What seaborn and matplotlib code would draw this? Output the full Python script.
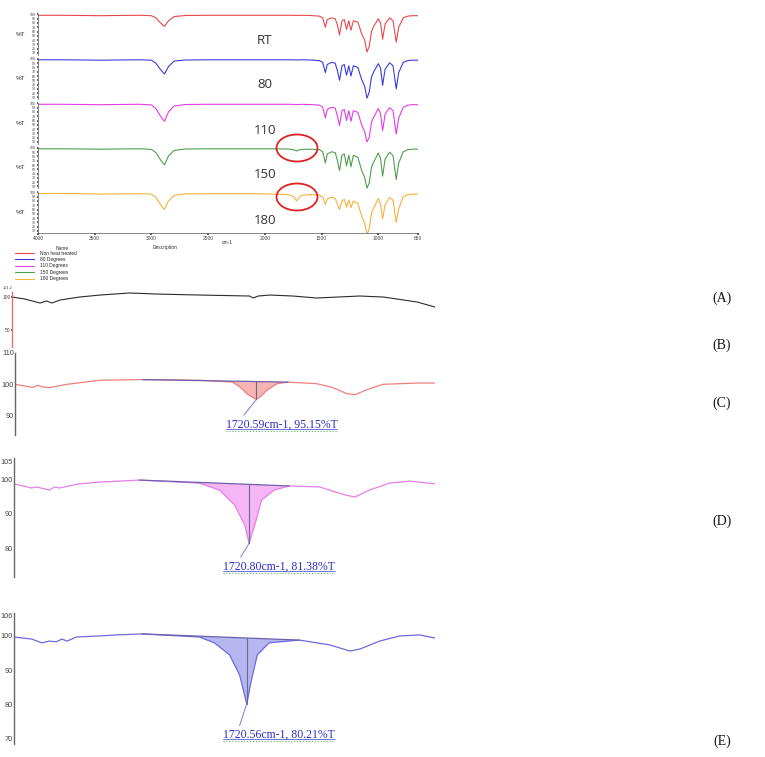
import matplotlib
matplotlib.use('Agg')
import matplotlib.pyplot as plt
import seaborn as sns
from matplotlib.patches import Ellipse
from matplotlib.lines import Line2D

# ---- panel A: full FTIR spectra (cm-1, %T) ----
wn_a = [4000, 3800, 3600, 3450, 3300, 3100, 3000, 2960, 2920, 2885,
        2850, 2800, 2700, 2500, 2300, 2100, 2000, 1900, 1800, 1760,
        1740, 1720, 1700, 1680, 1600, 1520, 1490, 1467, 1450, 1410,
        1380, 1360, 1342, 1320, 1300, 1280, 1260, 1241, 1220, 1180,
        1147, 1120, 1100, 1080, 1060, 1040, 1000, 980, 962, 940,
        900, 870, 842, 820, 780, 740, 700, 650]
t_rt = [98, 98, 97.5, 97, 97.5, 98, 97, 92, 80, 72,
        85, 95, 97.5, 98, 98, 98, 98, 98, 98, 98,
        97.8, 97.5, 97.8, 98, 97.5, 96, 92, 70, 88, 92,
        90, 75, 52, 85, 88, 65, 85, 63, 85, 82,
        55, 40, 12, 25, 60, 72, 90, 80, 42, 78,
        92, 85, 35, 70, 92, 96, 97, 97]
t_80 = [98, 98, 97.5, 97, 97.5, 98, 97, 90, 75, 65,
        82, 95, 97.5, 98, 98, 98, 98, 98, 98, 98,
        97.8, 97.5, 97.8, 98, 97.5, 96, 92, 68, 87, 92,
        90, 72, 50, 84, 87, 62, 84, 60, 84, 80,
        52, 36, 8, 22, 58, 70, 89, 78, 38, 76,
        91, 84, 30, 68, 92, 96, 97, 97]
t_110 = [98, 98, 97.5, 97, 97.5, 98, 96.5, 88, 70, 58,
         80, 94, 97.5, 98, 98, 98, 98, 98, 98, 97.8,
         97.6, 97.3, 97.6, 97.8, 97.5, 96, 91, 66, 86, 91,
         89, 70, 48, 83, 86, 60, 83, 58, 83, 79,
         50, 34, 10, 20, 56, 68, 88, 76, 36, 75,
         90, 83, 28, 66, 91, 96, 97, 97]
t_150 = [98, 98, 97.5, 97, 97.5, 98, 96.5, 89, 72, 60,
         81, 94, 97.5, 98, 98, 98, 98, 98, 97.5, 96.5,
         95, 93, 95, 96.5, 97, 96, 91, 65, 86, 91,
         89, 70, 47, 83, 86, 58, 83, 56, 83, 78,
         48, 30, 6, 18, 55, 67, 88, 75, 34, 74,
         90, 82, 26, 65, 91, 96, 97, 97]
t_180 = [97.5, 97.5, 97, 96, 96.5, 97, 96, 88, 72, 60,
         80, 93, 96.5, 97, 97, 97, 96.5, 96, 95, 92,
         88, 80, 87, 93, 95, 94, 89, 72, 85, 89,
         86, 72, 60, 80, 84, 66, 82, 64, 80, 74,
         45, 28, 2, 15, 52, 64, 86, 72, 38, 72,
         88, 82, 30, 62, 90, 95, 96, 96]
names_a = ['Non heat treated', '80 Degrees', '110 Degrees', '150 Degrees', '180 Degrees']
tags_a = ['RT', '80', '110', '150', '180']
xticks_a = [4000, 3500, 3000, 2500, 2000, 1500, 1000, 650]

# ---- panel B: zoomed overlay ----
wn_b = [2000, 1985, 1967, 1959, 1953, 1943, 1920, 1896, 1861, 1829, 1778,
        1719, 1715, 1709, 1695, 1668, 1640, 1589, 1561, 1521, 1500]
t_b = [100.0, 97.0, 90.9, 93.9, 90.9, 95.5, 100.0, 103.0, 106.1, 104.5, 103.0,
       101.5, 98.5, 101.5, 103.0, 101.5, 98.5, 101.5, 100.0, 92.4, 84.8]

# ---- panel C: RT, carbonyl region ----
wn_c = [2008, 1996, 1987, 1981, 1975, 1966, 1946, 1907, 1856, 1788, 1749, 1740,
        1731, 1720.59, 1714, 1708, 1696, 1683, 1649, 1630, 1613, 1603, 1589,
        1570, 1530, 1508]
t_c = [100.0, 99.4, 99.0, 99.7, 99.1, 99.0, 100.0, 101.3, 101.5, 101.3, 100.7, 99.1,
       96.8, 95.15, 96.5, 98.1, 100.2, 100.7, 100.2, 99.0, 97.0, 96.7, 98.3,
       100.0, 100.4, 100.4]
c_base = ([1856, 1683], [101.5, 100.7])
c_peak = (1720.59, 95.15, 100.9)
c_label = '1720.59cm-1, 95.15%T'

# ---- panel D: 150 degrees ----
wn_d = [2000, 1979, 1973, 1958, 1952, 1946, 1923, 1899, 1851, 1780, 1756, 1738,
        1726, 1720.80, 1714, 1706, 1691, 1673, 1637, 1607, 1595, 1578, 1554,
        1530, 1500]
t_d = [98.6, 97.4, 97.7, 96.8, 97.7, 97.4, 98.6, 99.1, 99.7, 98.8, 96.8, 92.5,
       86.7, 81.38, 86.7, 93.9, 96.8, 98.0, 97.7, 95.4, 94.8, 96.8, 98.8,
       99.4, 98.6]
d_base = ([1851, 1673], [99.7, 98.0])
d_peak = (1720.80, 81.38, 98.5)
d_label = '1720.80cm-1, 81.38%T'

# ---- panel E: 180 degrees ----
wn_e = [1997, 1976, 1964, 1955, 1947, 1940, 1934, 1923, 1896, 1876, 1845, 1777,
        1759, 1741, 1729, 1720.56, 1715, 1708, 1694, 1658, 1622, 1598, 1586,
        1563, 1539, 1515, 1497]
t_e = [99.7, 99.1, 98.0, 98.5, 98.3, 99.1, 98.5, 99.7, 100.0, 100.3, 100.6, 99.7,
       98.0, 94.5, 88.6, 80.21, 87.2, 94.5, 98.0, 98.8, 97.4, 95.6, 96.2,
       98.5, 100.0, 100.3, 99.4]
e_base = ([1845, 1658], [100.6, 98.8])
e_peak = (1720.56, 80.21, 99.4)
e_label = '1720.56cm-1, 80.21%T'

sns.set_theme(style='white')
plt.rcParams['font.family'] = ['Liberation Sans', 'DejaVu Sans']

W, H = 765, 757
fig = plt.figure(figsize=(W / 100, H / 100), dpi=100)


def add_ax(left, top, width, height):
    return fig.add_axes([left / W, 1 - (top + height) / H, width / W, height / H])


def fig_text(x, y, s, **kw):
    fig.text(x / W, 1 - y / H, s, **kw)


# ---- panel A ----
colors_a = ['#e8484b', '#3b3bdb', '#e33de3', '#4f9f4f', '#f6b13c']
series_a = [t_rt, t_80, t_110, t_150, t_180]
tops = [14, 58.5, 103, 147.5, 192]
for i in range(5):
    ax = add_ax(38, tops[i], 380, 41)
    sns.lineplot(x=wn_a, y=series_a[i], ax=ax, color=colors_a[i], lw=0.8,
                 sort=False, legend=False)
    ax.set_xlim(4000, 650)
    ax.set_ylim(5, 101)
    ax.set_yticks(range(10, 101, 10))
    ax.tick_params(axis='y', labelsize=2.5, length=1, pad=0.5, left=True, colors='#444444')
    for s in ['top', 'right', 'bottom']:
        ax.spines[s].set_visible(False)
    ax.spines['left'].set_color('#555555')
    ax.spines['left'].set_linewidth(0.5)
    ax.set_ylabel('%T', rotation=0, fontsize=4.5, color='#333333')
    ax.yaxis.set_label_coords(-0.047, 0.45)
    ax.set_xlabel('')
    if i == 4:
        ax.spines['bottom'].set_visible(True)
        ax.spines['bottom'].set_color('#555555')
        ax.spines['bottom'].set_linewidth(0.5)
        ax.set_xticks(xticks_a)
        ax.tick_params(axis='x', labelsize=3.5, length=1.5, pad=1, bottom=True, colors='#444444')
    else:
        ax.set_xticks([])
    fig_text(265, 40 + 45 * i, tags_a[i], fontsize=9.5, family='Open Sans',
             color='#333333', ha='center', va='center')

fig_text(227, 242, 'cm-1', fontsize=3.5, color='#333333', ha='center', va='center')
fig_text(62, 248, 'Name', fontsize=3.5, color='#333333', ha='center', va='center')
fig_text(165, 248, 'Description', fontsize=3.5, color='#333333', ha='center', va='center')
handles = [Line2D([], [], color=c, lw=0.8) for c in colors_a]
fig.legend(handles, names_a, loc='upper left', bbox_to_anchor=(15 / W, 1 - 250.5 / H),
           frameon=False, fontsize=3.5, handlelength=4, handletextpad=1.2,
           labelspacing=0.3, borderpad=0, borderaxespad=0)

for cy in [148, 197]:
    fig.add_artist(Ellipse((297 / W, 1 - cy / H), 41 / W, 27 / H, transform=fig.transFigure,
                           fill=False, ec='#e02222', lw=1.3))

# ---- panel B ----
ax = add_ax(12, 292, 423, 55)
sns.lineplot(x=wn_b, y=t_b, ax=ax, color='#2b2b2b', lw=0.8, sort=False, legend=False)
ax.set_xlim(2000, 1500)
ax.set_ylim(24.2, 107.6)
ax.set_yticks([50, 100])
ax.set_xticks([])
ax.tick_params(axis='y', labelsize=3.5, length=0.8, pad=0.3, left=True, colors='#444444')
for s in ['top', 'right', 'bottom']:
    ax.spines[s].set_visible(False)
ax.spines['left'].set_color('#f07070')
ax.spines['left'].set_linewidth(1)
ax.set_xlabel('')
ax.set_ylabel('')
fig_text(8, 288, '101.2', fontsize=2.8, color='#444444', ha='center', va='center')


# ---- panels C, D, E ----
def peak_panel(box, wn, t, col, fill_col, xlim, ylim, yticks, base, peak, label, off):
    ax = add_ax(*box)
    sns.lineplot(x=wn, y=t, ax=ax, color=col, lw=0.9, sort=False, legend=False)
    i0 = wn.index(base[0][0])
    i1 = wn.index(base[0][1])
    ax.fill(wn[i0:i1 + 1], t[i0:i1 + 1], color=fill_col, lw=0, zorder=1)
    ax.plot(base[0], base[1], color='#6e5fae', lw=0.9)
    ax.plot([peak[0], peak[0]], [peak[2], peak[1]], color='#6a6a8a', lw=0.8)
    ax.set_xlim(*xlim)
    ax.set_ylim(*ylim)
    ax.set_yticks(yticks)
    ax.set_xticks([])
    ax.tick_params(axis='y', labelsize=5.3, length=0, pad=0.8, left=False, colors='#444444')
    for s in ['top', 'right', 'bottom']:
        ax.spines[s].set_visible(False)
    ax.spines['left'].set_color('#666666')
    ax.spines['left'].set_linewidth(1)
    ax.set_xlabel('')
    ax.set_ylabel('')
    ann = ax.annotate(label, xy=(peak[0], peak[1]), xytext=off, textcoords='offset pixels',
                      ha='center', va='center', fontsize=8.5, family='Liberation Serif',
                      color='#2c2ccc',
                      arrowprops=dict(arrowstyle='-', color='#7a7ad8', lw=0.7,
                                      relpos=(0.14, 1.0), shrinkA=0, shrinkB=0))
    return ann


anns = []
anns.append(peak_panel((15, 353, 420, 82), wn_c, t_c, '#ef7f7f', '#f6b4b4',
                       (2008, 1508), (83.8, 109.8), [90, 100, 110], c_base, c_peak,
                       c_label, (25, -25)))
anns.append(peak_panel((14, 458, 421, 119), wn_d, t_d, '#e77ee7', '#f6b6f6',
                       (2000, 1500), (71.6, 106.1), [80, 90, 100, 105], d_base, d_peak,
                       d_label, (30, -23)))
anns.append(peak_panel((14, 613, 421, 131), wn_e, t_e, '#6a6ae0', '#b6b6f0',
                       (1997, 1497), (68.5, 106.7), [70, 80, 90, 100, 106], e_base, e_peak,
                       e_label, (32, -31)))

fig.canvas.draw()
inv = fig.transFigure.inverted()
for ann in anns:
    bb = ann.get_window_extent()
    (x0, y0), (x1, _) = inv.transform([(bb.x0, bb.y0 + 1.5), (bb.x1, bb.y0)])
    fig.add_artist(Line2D([x0, x1], [y0, y0], transform=fig.transFigure, color='#3a3ad0', lw=0.5))
    (x0, y0), (x1, _) = inv.transform([(bb.x0, bb.y0 - 0.5), (bb.x1, bb.y0)])
    fig.add_artist(Line2D([x0, x1], [y0, y0], transform=fig.transFigure, color='#5cb85c',
                          lw=0.8, ls=':'))

# panel letters
for lab, y in [('(A)', 298), ('(B)', 345), ('(C)', 403), ('(D)', 521), ('(E)', 741)]:
    fig_text(722, y, lab, fontsize=10, family='Liberation Serif', color='#111111',
             ha='center', va='center')

fig.savefig('out.png', dpi=100)
